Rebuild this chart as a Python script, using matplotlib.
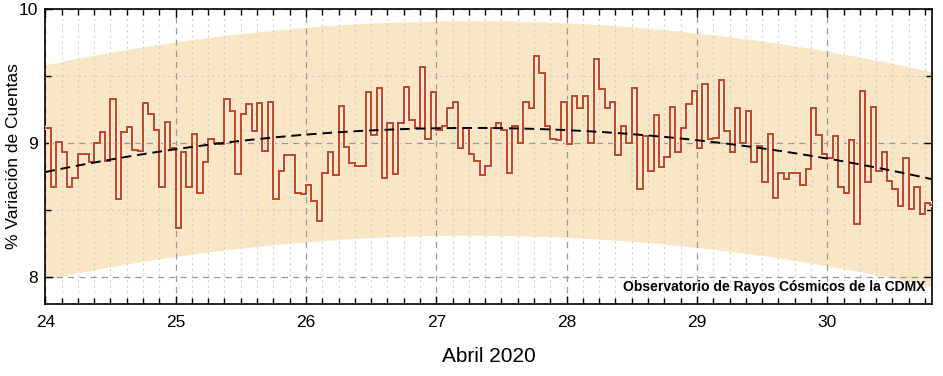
import numpy as np
import matplotlib
matplotlib.use("Agg")
import matplotlib.pyplot as plt
import matplotlib.patheffects as pe
from matplotlib.ticker import MultipleLocator

plt.rcParams['font.family'] = ['Liberation Sans', 'DejaVu Sans']

# hourly counts variation (%), starting 24 April 2020 00:00
day24 = [9.11, 8.67, 9.01, 8.93, 8.67, 8.74, 8.92, 8.92, 8.86, 9.00, 9.08, 8.87,
         9.33, 8.58, 9.08, 9.12, 8.95, 8.94, 9.30, 9.22, 9.10, 8.67, 9.16, 8.96]
day25 = [8.37, 8.93, 8.67, 9.07, 8.63, 8.86, 9.03, 9.00, 8.99, 9.33, 9.24, 8.77,
         9.22, 9.29, 9.09, 9.30, 8.94, 9.31, 8.58, 8.79, 8.91, 8.91, 8.63, 8.62]
day26 = [8.69, 8.57, 8.42, 8.78, 8.93, 8.76, 9.28, 8.97, 8.85, 8.83, 8.83, 9.38,
         9.06, 9.41, 8.74, 9.15, 8.77, 9.15, 9.42, 9.17, 9.11, 9.57, 9.03, 9.38]
day27 = [9.10, 9.13, 9.26, 9.31, 8.96, 9.11, 8.92, 8.87, 8.76, 8.83, 9.11, 9.15,
         9.10, 8.78, 9.13, 9.00, 9.31, 9.26, 9.65, 9.52, 9.13, 9.03, 9.02, 9.31]
day28 = [8.99, 9.35, 9.26, 9.35, 9.00, 9.63, 9.40, 9.26, 9.31, 8.91, 9.13, 9.00,
         9.41, 8.66, 9.05, 8.79, 9.21, 8.82, 8.90, 9.27, 8.93, 9.11, 9.29, 9.39]
day29 = [8.96, 9.44, 9.03, 9.04, 9.47, 9.09, 8.93, 9.26, 9.00, 9.24, 8.86, 8.98,
         8.71, 9.07, 8.59, 8.78, 8.73, 8.78, 8.78, 8.69, 8.81, 9.26, 9.06, 8.92]
day30 = [8.89, 9.05, 8.67, 8.63, 9.02, 8.40, 9.39, 8.71, 9.27, 8.79, 8.93, 8.72,
         8.66, 8.53, 8.89, 8.51, 8.67, 8.47, 8.55, 8.54]

first_day = 24
x_end = 30.806
band_half = 0.8
day_ticks = [24, 25, 26, 27, 28, 29, 30]
y_ticks = [8, 9, 10]

values = np.array(day24 + day25 + day26 + day27 + day28 + day29 + day30)
edges = first_day + np.arange(len(values) + 1) / 24.0

# quadratic trend of the series
mid = 0.5 * (edges[:-1] + edges[1:])
coef = np.polyfit(mid, values, 2)
tt = np.linspace(first_day, x_end, 300)
trend = np.polyval(coef, tt)

fig = plt.figure(figsize=(9.43, 3.76), dpi=100)
ax = fig.add_axes([0.048, 0.1915, 0.9407, 0.7845])

ax.fill_between(tt, trend - band_half, trend + band_half, color='#f9e6c5',
                lw=0, zorder=1)
ax.stairs(values, edges, baseline=None, color='#c24a26', lw=1.5, zorder=3,
          path_effects=[pe.withStroke(linewidth=3, foreground='#fdf2e4')])
ax.plot(tt, trend, color='black', lw=1.4, dashes=(5, 3), zorder=4)

ax.set_xlim(first_day, x_end)
ax.set_ylim(7.8, 10)
ax.set_xticks(day_ticks)
ax.set_yticks(y_ticks)
ax.xaxis.set_minor_locator(MultipleLocator(1 / 8))
ax.yaxis.set_minor_locator(MultipleLocator(0.5))

ax.grid(which='major', color='#9a9a9a', ls=(0, (5, 4)), lw=0.9)
ax.grid(which='minor', color='#d0d0d0', ls=(0, (2, 3)), lw=0.8)

ax.tick_params(which='both', direction='in', top=True, right=True,
               labelsize=12.5)
ax.tick_params(axis='x', pad=8)
ax.tick_params(axis='y', pad=5)
ax.tick_params(which='major', length=6, width=1)
ax.tick_params(which='minor', length=4, width=1)
for s in ax.spines.values():
    s.set_linewidth(1.2)

ax.set_xlabel('Abril 2020', fontsize=15, labelpad=12)
ax.set_ylabel('% Variación de Cuentas', fontsize=12.5)
ax.yaxis.set_label_coords(-0.027, 0.5)

ax.text(0.992, 0.057, 'Observatorio de Rayos Cósmicos de la CDMX',
        transform=ax.transAxes, ha='right', va='center', fontsize=10,
        fontweight='bold', zorder=5)

fig.savefig('out.png', dpi=100)
